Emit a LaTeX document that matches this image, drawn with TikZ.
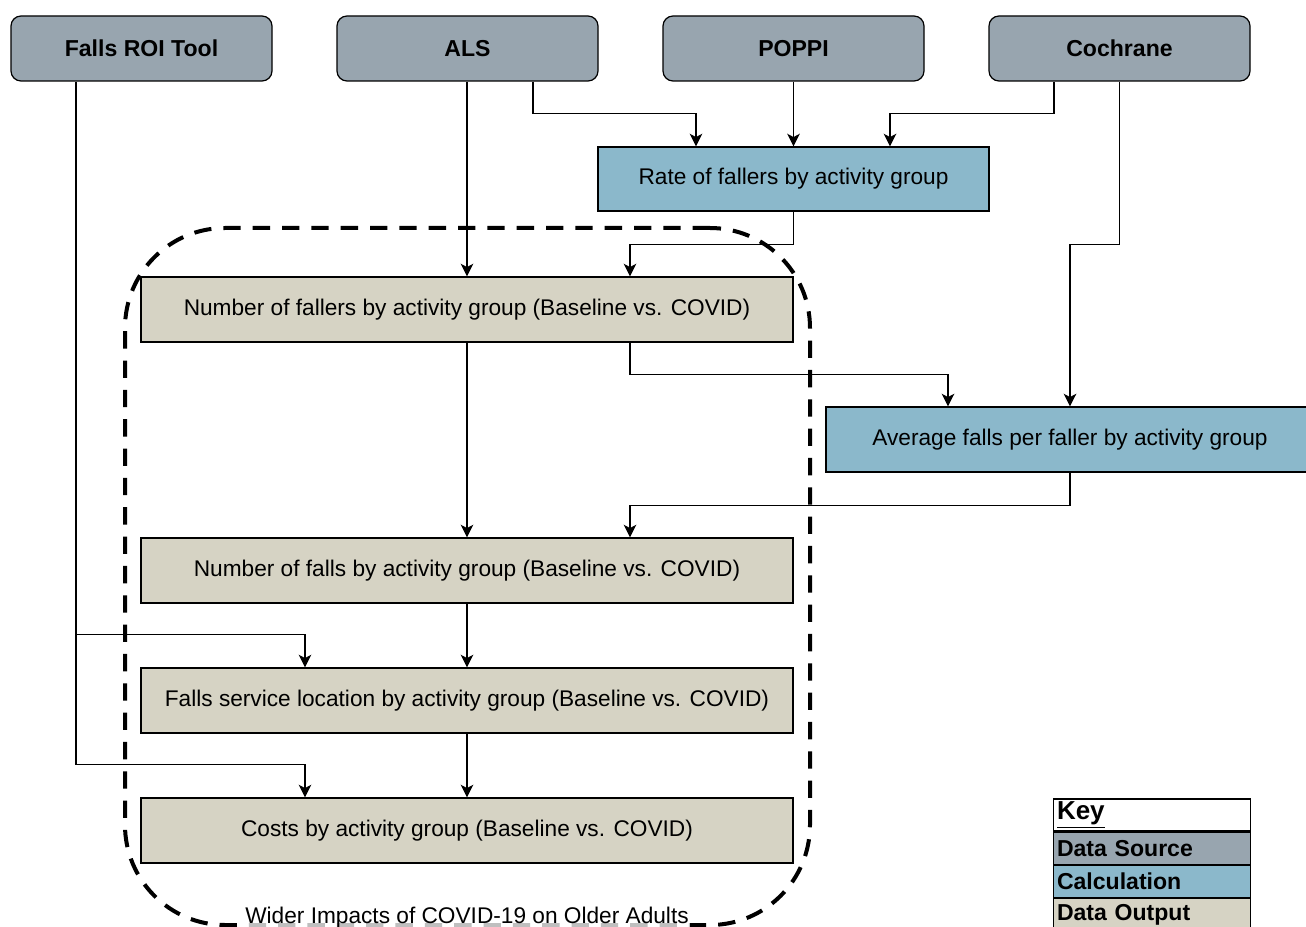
\documentclass[tikz,border=0pt]{standalone}
\usepackage{fontspec}
\setmainfont{Liberation Sans}
\usetikzlibrary{arrows.meta,calc}
\newcommand\px{0.75pt}
\definecolor{srcgrey}{RGB}{152,165,175}
\definecolor{calcblue}{RGB}{139,184,203}
\definecolor{outbeige}{RGB}{214,211,196}
\newcommand\thickul[1]{\underline{#1}}
\tikzset{
  x=0.75pt, y=-0.75pt,
  box/.style={draw=black, line width=0.9pt, inner sep=0pt, align=center,
    font=\fontsize{17}{20}\selectfont},
  srcbox/.style={box, fill=srcgrey, rounded corners=7.5pt,
    minimum width=261*\px, minimum height=65*\px, font=\fontsize{17.3}{20}\selectfont\bfseries},
  calcbox/.style={box, fill=calcblue, minimum height=64*\px},
  outbox/.style={box, fill=outbeige, minimum width=652*\px, minimum height=65*\px},
  conn/.style={line width=1pt, draw=black},
  arr/.style={conn, -{Stealth[length=9.5pt,width=9.5pt,inset=2.5pt]}},
  keyrow/.style={draw=black, line width=0.9pt, minimum width=196*\px, minimum height=32*\px,
    text width=190*\px, inner xsep=2.5pt, inner ysep=1pt, align=left,
    font=\fontsize{17.3}{19}\selectfont\bfseries},
}
\begin{document}
\begin{tikzpicture}
\useasboundingbox (0,0) rectangle (1306,927);
% column helpers
\coordinate (c76) at (76,0);
\coordinate (c305) at (305,0);
\coordinate (c533) at (533,0);
\coordinate (c630) at (630,0);
\coordinate (c696) at (696,0);
\coordinate (c890) at (890,0);
\coordinate (c948) at (948,0);
\coordinate (c1054) at (1054,0);

% container
\node[draw=black, line width=3pt, dash pattern=on 13pt off 9pt, rounded corners=75pt,
  minimum width=685*\px, minimum height=697*\px, inner sep=0pt] (wider) at (467.5,576.5) {};
\node[fill=white, fill opacity=0.75, text opacity=1, inner sep=1pt,
  font=\fontsize{17}{20}\selectfont] (widerlbl) at (467,918) {Wider Impacts of COVID-19 on Older Adults};

% data sources
\node[srcbox] (roi) at (141.5,48.5) {Falls ROI Tool};
\node[srcbox] (als) at (467.5,48.5) {ALS};
\node[srcbox] (poppi) at (793.5,48.5) {POPPI};
\node[srcbox] (coch) at (1119.5,48.5) {Cochrane};

% calculations
\node[calcbox, minimum width=391*\px] (rate) at (793.5,179) {Rate of fallers by activity group};
\node[calcbox, minimum width=488*\px, minimum height=65*\px] (avg) at (1070,439.5) {Average falls per faller by activity group};

% outputs
\node[outbox] (nfallers) at (467,309.5) {Number of fallers by activity group (Baseline vs. COVID)};
\node[outbox] (nfalls) at (467,570.5) {Number of falls by activity group (Baseline vs. COVID)};
\node[outbox] (svc) at (467,700.5) {Falls service location by activity group (Baseline vs. COVID)};
\node[outbox] (cost) at (467,830.5) {Costs by activity group (Baseline vs. COVID)};

% connectors
\draw[arr] (roi.south -| c76) |- ($(cost.north -| c305)+(0,-33)$) -- (cost.north -| c305);
\draw[arr] ($(svc.north -| c76)+(0,-33)$) -| (svc.north -| c305);
\draw[arr] (als.south -| nfallers.north) -- (nfallers.north);
\draw[arr] (als.south -| c533) -- ++(0,32) -| (rate.north -| c696);
\draw[arr] (poppi.south) -- (rate.north);
\draw[arr] (coch.south -| c1054) -- ++(0,32) -| (rate.north -| c890);
\draw[arr] (coch.south) -- ++(0,163) -| (avg.north);
\draw[arr] (rate.south) -- ++(0,33) -| (nfallers.north -| c630);
\draw[arr] (nfallers.south -| c630) -- ++(0,32) -| (avg.north -| c948);
\draw[arr] (nfallers.south) -- (nfalls.north);
\draw[arr] (avg.south) -- ++(0,33) -| (nfalls.north -| c630);
\draw[arr] (nfalls.south) -- (svc.north);
\draw[arr] (svc.south) -- (cost.north);

% key
\node[keyrow, fill=white, font=\fontsize{19.5}{21}\selectfont\bfseries] (keyhead) at (1152,815) {\thickul{Key}};
\node[keyrow, fill=srcgrey, anchor=north] (keysrc) at (keyhead.south) {Data Source};
\node[keyrow, fill=calcblue, anchor=north] (keycalc) at (keysrc.south) {Calculation};
\node[keyrow, fill=outbeige, anchor=north] (keyout) at (keycalc.south) {Data Output};
\end{tikzpicture}
\end{document}
